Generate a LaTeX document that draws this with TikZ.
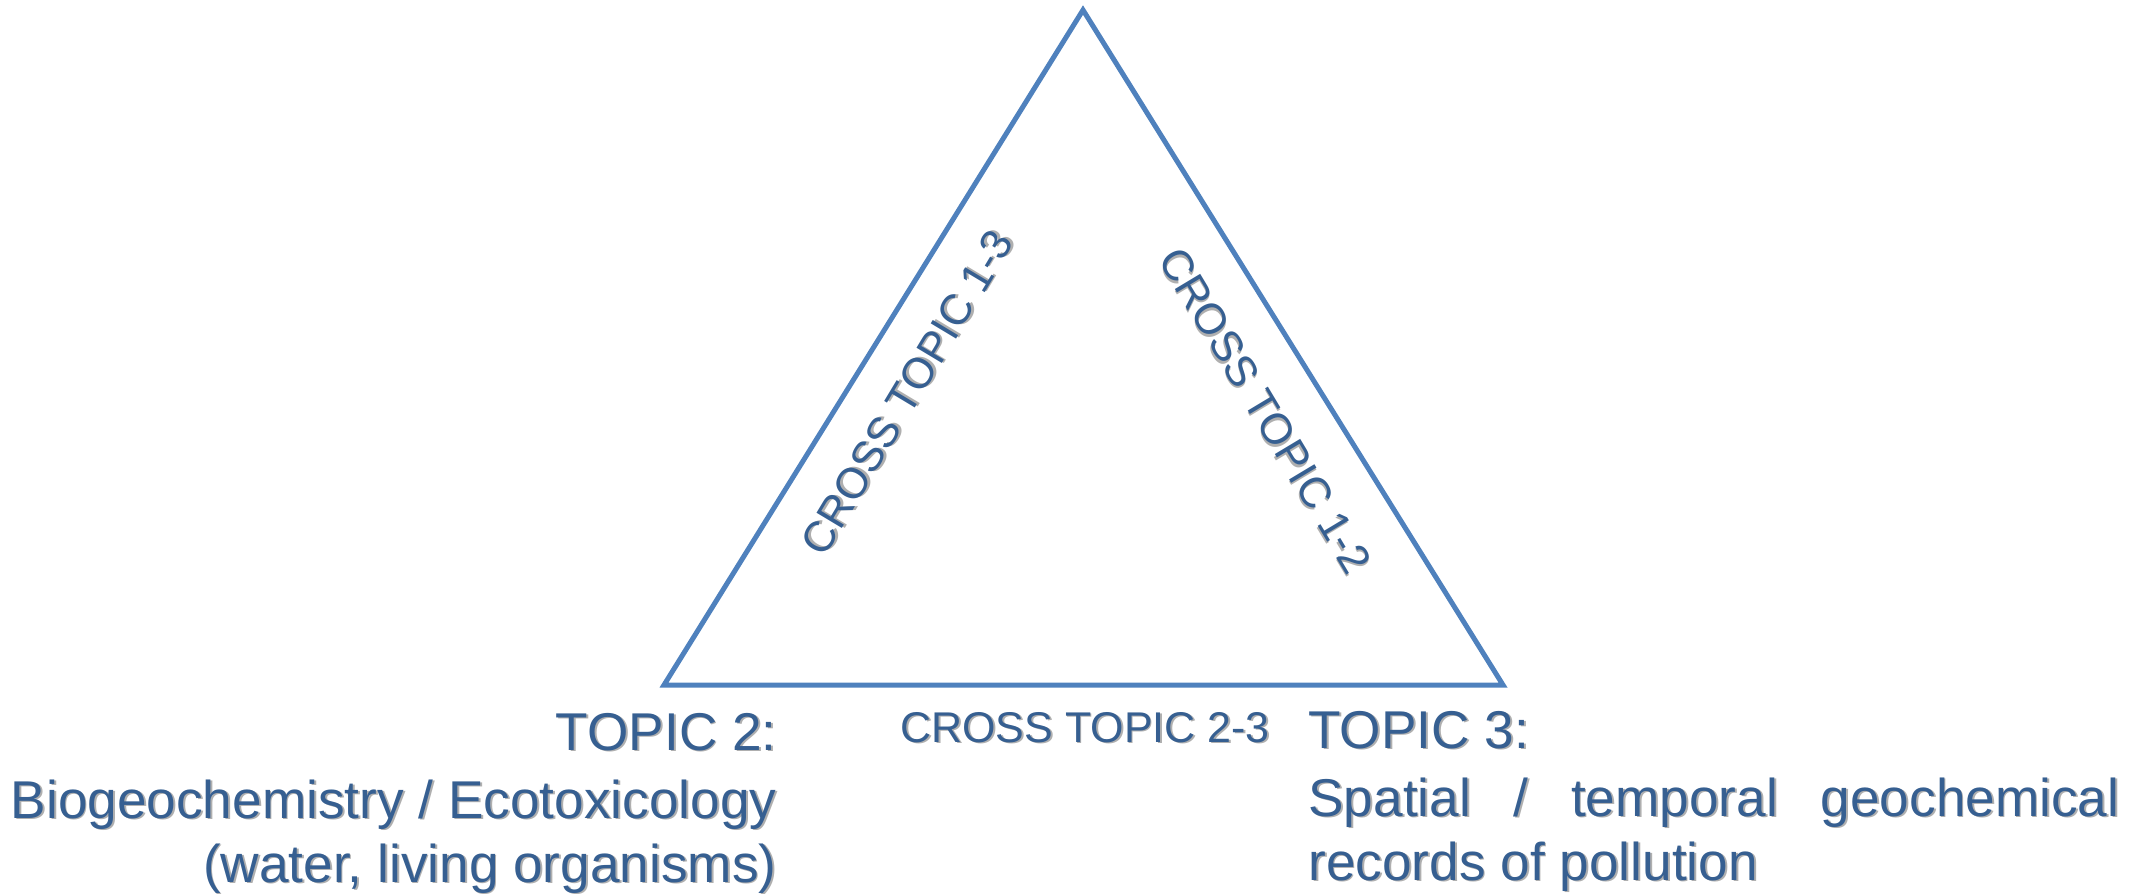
\documentclass[tikz,border=0pt]{standalone}
\usepackage{fontspec}
\setmainfont{Liberation Sans}
\definecolor{edgeblue}{RGB}{79,129,189}
\definecolor{textblue}{RGB}{54,95,145}
\definecolor{shadowgray}{RGB}{175,175,175}
\newcommand\shadowed[1]{\leavevmode\rlap{\hspace{0.9pt}\raisebox{-0.9pt}{\color{shadowgray}#1}}#1}
\newlength\tthreew
\setlength\tthreew{405.5pt}
\tikzset{
  edge/.style={draw=edgeblue, line width=2.5pt, line join=miter},
  topic/.style={text=textblue, inner sep=0pt, font=\fontsize{26.6pt}{32pt}\selectfont},
  cross/.style={text=textblue, inner sep=0pt, font=\fontsize{21.5pt}{26pt}\selectfont}
}
\begin{document}
\begin{tikzpicture}[x=0.5pt, y=-0.5pt]
\useasboundingbox (0,0) rectangle (2147,894);
\coordinate (apex) at (1083,10);
\coordinate (bl) at (664,685);
\coordinate (br) at (1503,685);
\draw[edge] (apex) -- (bl) -- (br) -- cycle;

\node[topic, anchor=base east, align=right] (t2) at (777,882)
  {\shadowed{TOPIC 2:}\\[2pt]\shadowed{Biogeochemistry / Ecotoxicology}\\\shadowed{(water, living organisms)}};
\node[topic, anchor=base west, align=left] (t3) at (1308,880)
  {\shadowed{TOPIC 3:}\\[2pt]\shadowed{\makebox[\tthreew][s]{Spatial / temporal geochemical}}\\\shadowed{records of pollution}};

\node[cross, anchor=base] (c23) at (1085,742) {\shadowed{CROSS TOPIC 2-3}};
\node[cross, rotate=59] (c13) at (908,393) {\shadowed{CROSS TOPIC 1-3}};
\node[cross, rotate=-59] (c12) at (1265,411) {\shadowed{CROSS TOPIC 1-2}};
\end{tikzpicture}
\end{document}
